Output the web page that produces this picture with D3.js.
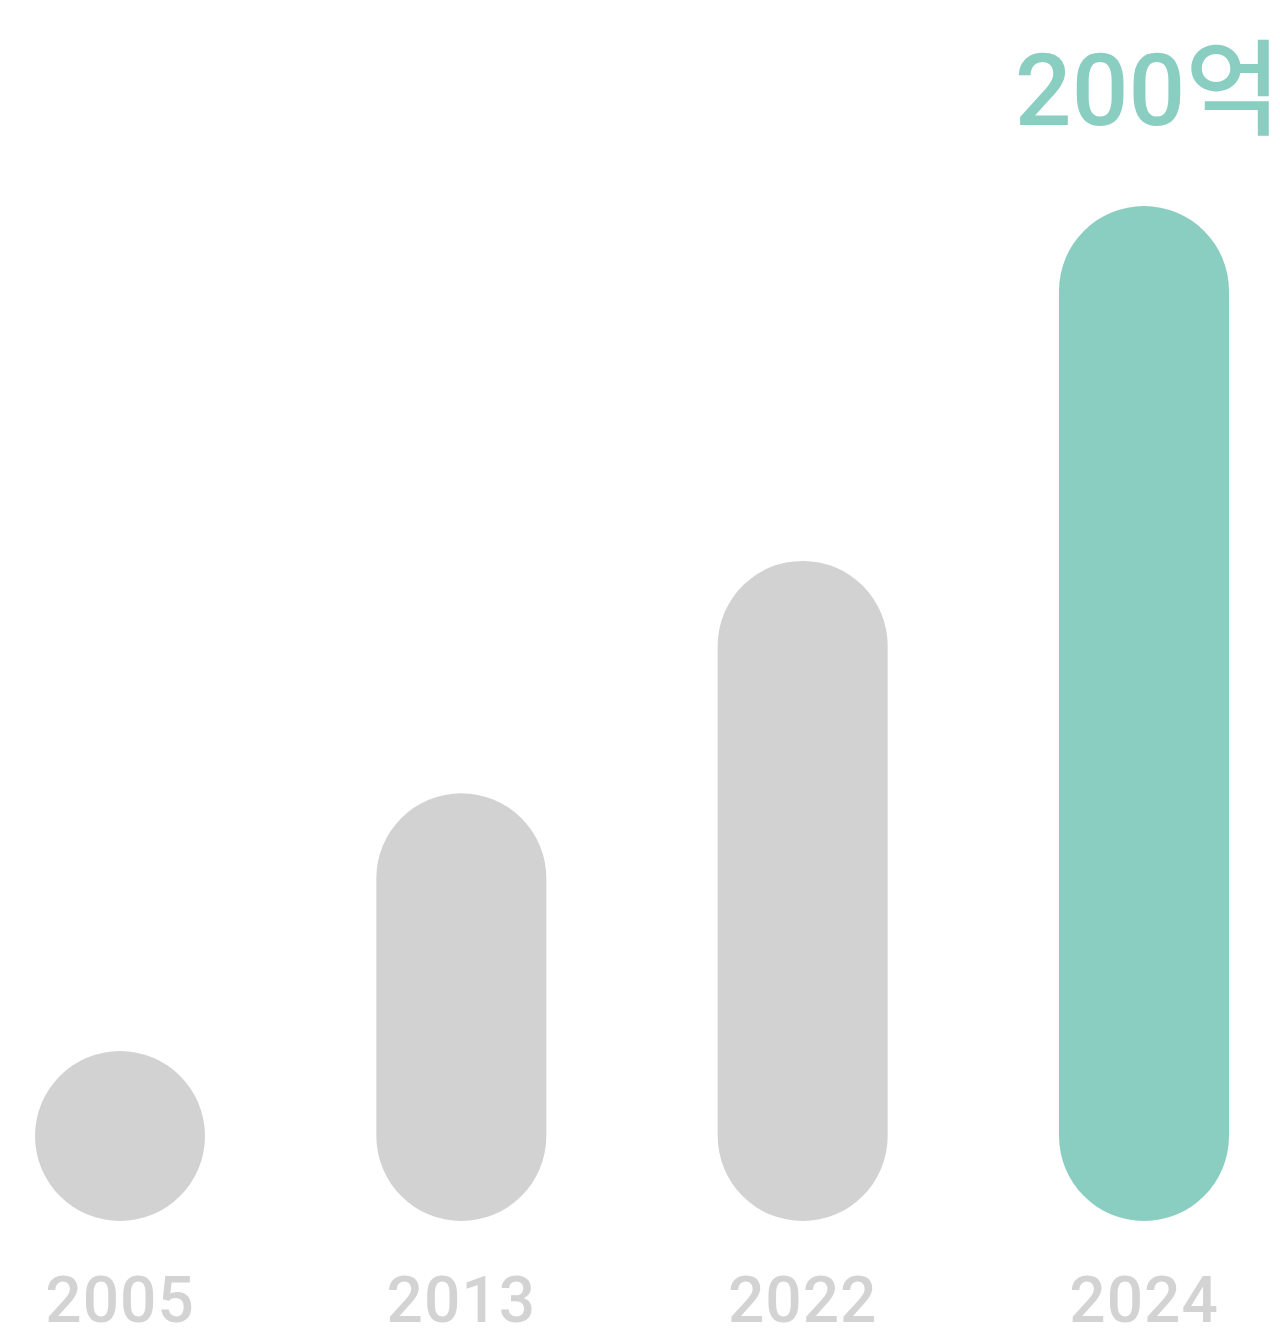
<!DOCTYPE html>
<html>
<head>
<meta charset="utf-8">
<script src="https://cdn.jsdelivr.net/npm/d3@7"></script>
<style>
  html, body { margin: 0; padding: 0; background: #ffffff; }
  svg { display: block; }
</style>
</head>
<body>
<svg id="chart" width="1280" height="1339"></svg>
<script>
const categories = ["2005", "2013", "2022", "2024"];
const values = [0, 61, 116, 200];
const highlightNumber = "200";
const highlightUnit = "억";

const W = 1280, H = 1339;
const barWidth = 170;
const r = barWidth / 2;
const gray = "#d2d2d2";
const teal = "#89cec0";

const svg = d3.select("#chart");

const x = d3.scalePoint().domain(categories).range([120, 1144]);
// y maps value to the centre of the top cap; 0 -> centre of the bottom cap
const y = d3.scaleLinear().domain([0, 200]).range([1136, 291]);

const data = categories.map((c, i) => ({ c, v: values[i], last: i === categories.length - 1 }));

svg.selectAll("rect.bar")
  .data(data)
  .join("rect")
  .attr("class", "bar")
  .attr("x", d => x(d.c) - r)
  .attr("y", d => y(d.v) - r)
  .attr("width", barWidth)
  .attr("height", d => (y(0) - y(d.v)) + barWidth)
  .attr("rx", r)
  .attr("ry", r)
  .attr("fill", d => d.last ? teal : gray);

svg.selectAll("text.year")
  .data(data)
  .join("text")
  .attr("class", "year")
  .attr("x", d => x(d.c))
  .attr("y", 1322)
  .attr("text-anchor", "middle")
  .attr("font-family", "Roboto, 'Noto Sans', sans-serif")
  .attr("font-weight", 500)
  .attr("font-size", 64)
  .attr("letter-spacing", 1)
  .attr("fill", "#d3d3d3")
  .text(d => d.c);

const hl = svg.append("text")
  .attr("x", 1281)
  .attr("y", 125)
  .attr("text-anchor", "end")
  .attr("font-family", "Roboto, 'Noto Sans CJK KR', sans-serif")
  .attr("font-weight", 500)
  .attr("fill", teal);
hl.append("tspan")
  .attr("font-size", 100)
  .text(highlightNumber);
hl.append("tspan")
  .attr("font-family", "'Noto Sans CJK KR', sans-serif")
  .attr("font-size", 104)
  .attr("dy", 2)
  .text(highlightUnit);
</script>
</body>
</html>
